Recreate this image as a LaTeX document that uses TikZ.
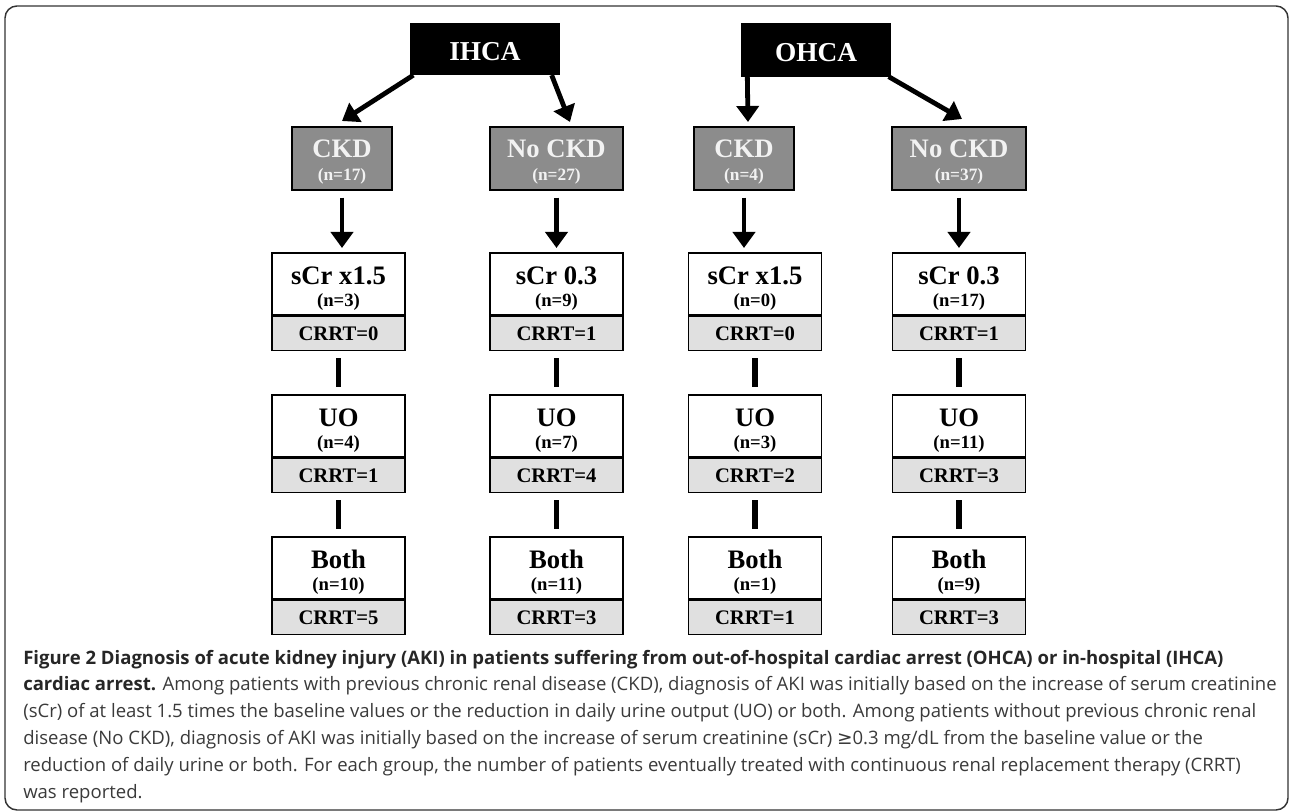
\documentclass[tikz,border=0pt]{standalone}
\usepackage{fontspec}
\setmainfont{Liberation Serif}
\newfontfamily\capfont{Open Sans}
\newfontfamily\symfont{DejaVu Sans}
\usetikzlibrary{arrows.meta,calc}
\definecolor{ckdgray}{HTML}{8C8C8C}
\definecolor{ckdtext}{HTML}{F2F2F2}
\definecolor{crrtgray}{HTML}{E0E0E0}
\definecolor{captext}{HTML}{3A3A3A}
\definecolor{framecol}{HTML}{333333}
\tikzset{
  pxunits/.style={x=0.75pt,y=-0.75pt},
  headbox/.style={draw=black,fill=black,line width=1pt,inner sep=0pt,
    minimum width=148*0.75pt,minimum height=51*0.75pt},
  headtext/.style={anchor=base,inner sep=0pt,text=white,
    font=\bfseries\fontsize{20.5}{22}\selectfont},
  ckdbox/.style={draw=black,fill=ckdgray,line width=1.2pt,inner sep=0pt,
    minimum height=63*0.75pt,anchor=north},
  upbox/.style={draw=black,fill=white,line width=1.3pt,inner sep=0pt,
    minimum width=133*0.75pt,minimum height=62*0.75pt,anchor=north},
  crrtbox/.style={draw=black,fill=crrtgray,line width=1.3pt,inner sep=0pt,
    minimum width=133*0.75pt,minimum height=34*0.75pt,anchor=north,
    font=\bfseries\fontsize{15.5}{17}\selectfont},
  titletext/.style={anchor=base,inner sep=0pt,font=\bfseries\fontsize{20}{22}\selectfont},
  ntext/.style={anchor=center,inner sep=0pt,font=\bfseries\fontsize{14}{16}\selectfont},
  ckdtitle/.style={anchor=base,inner sep=0pt,text=ckdtext,font=\bfseries\fontsize{20}{22}\selectfont},
  ckdn/.style={anchor=center,inner sep=0pt,text=ckdtext,font=\bfseries\fontsize{13}{15}\selectfont},
  arr/.style={line width=3.6pt,-{Triangle[width=16.5pt,length=12pt]}},
  bar/.style={line width=3.8pt,shorten <=7*0.75pt,shorten >=7*0.75pt},
}
% #1 name, #2 cx, #3 top, #4 title, #5 n, #6 crrt
\newcommand\kbox[6]{%
  \node[upbox] (#1) at (#2,#3) {};
  \node[titletext] (#1t) at ($(#1.north)+(0,33)$) {#4};
  \node[ntext] (#1n) at ($(#1.north)+(0,50)$) {#5};
  \node[crrtbox] (#1c) at (#1.south) {#6};
}
% #1 name, #2 cx, #3 width, #4 title, #5 n
\newcommand\ckbox[5]{%
  \node[ckdbox,minimum width=#3*0.75pt] (#1) at (#2,126) {};
  \node[ckdtitle] (#1t) at ($(#1.north)+(0,32)$) {#4};
  \node[ckdn] (#1n) at ($(#1.north)+(0,50)$) {#5};
}
\begin{document}
\begin{tikzpicture}[pxunits]
\useasboundingbox (0,0) rectangle (1290,812);
\draw[framecol,line width=1.1pt,rounded corners=9pt] (5,6) rectangle (1288,810);

\node[headbox] (ihca) at (485,49) {};
\node[headtext] (ihcat) at ($(ihca.center)+(0,12)$) {IHCA};
\node[headbox,minimum height=52*0.75pt] (ohca) at (816,50) {};
\node[headtext] (ohcat) at ($(ohca.center)+(0,12)$) {OHCA};

\ckbox{ckdA}{342}{100}{CKD}{(n=17)}
\ckbox{ckdB}{556.5}{133}{No CKD}{(n=27)}
\ckbox{ckdC}{744}{100}{CKD}{(n=4)}
\ckbox{ckdD}{959}{134}{No CKD}{(n=37)}

\kbox{sA}{338.5}{252}{sCr x1.5}{(n=3)}{CRRT=0}
\kbox{sB}{556.5}{252}{sCr 0.3}{(n=9)}{CRRT=1}
\kbox{sC}{755}{252}{sCr x1.5}{(n=0)}{CRRT=0}
\kbox{sD}{959}{252}{sCr 0.3}{(n=17)}{CRRT=1}

\kbox{uA}{338.5}{394}{UO}{(n=4)}{CRRT=1}
\kbox{uB}{556.5}{394}{UO}{(n=7)}{CRRT=4}
\kbox{uC}{755}{394}{UO}{(n=3)}{CRRT=2}
\kbox{uD}{959}{394}{UO}{(n=11)}{CRRT=3}

\kbox{bA}{338.5}{536}{Both}{(n=10)}{CRRT=5}
\kbox{bB}{556.5}{536}{Both}{(n=11)}{CRRT=3}
\kbox{bC}{755}{536}{Both}{(n=1)}{CRRT=1}
\kbox{bD}{959}{536}{Both}{(n=9)}{CRRT=3}

% top arrows
\draw[arr] ($(ihca.south west)+(3,0)$) -- ($(ckdA.north)+(0,-5)$);
\draw[arr] ($(ihca.south east)+(-8,0)$) -- ($(ckdB.north)+(13.5,-4)$);
\draw[arr] ($(ohca.south west)+(6,0)$) -- ($(ckdC.north)+(4,-4)$);
\draw[arr] ($(ohca.south east)+(-2,0)$) -- ($(ckdD.north)+(3,-7)$);

% CKD -> sCr arrows and connectors
\foreach \c in {A,B,C,D}{
  \draw[arr,shorten >=4*0.75pt] ($(ckd\c.south)+(0,7)$) -- (ckd\c.south |- s\c.north);
  \draw[bar] (s\c c.south) -- (u\c.north);
  \draw[bar] (u\c c.south) -- (b\c.north);
}

\node[anchor=base west,inner sep=0pt,align=left,text=captext,
  font=\capfont\fontsize{13.9}{20.1}\selectfont] (cap) at (23,798)
{{\bfseries\color{black!85}Figure 2 Diagnosis of acute kidney injury (AKI) in patients suffering from out-of-hospital cardiac arrest (OHCA) or in-hospital (IHCA)}\\
{\bfseries\color{black!85}cardiac arrest.} Among patients with previous chronic renal disease (CKD), diagnosis of AKI was initially based on the increase of serum creatinine\\
(sCr) of at least 1.5 times the baseline values or the reduction in daily urine output (UO) or both. Among patients without previous chronic renal\\
disease (No CKD), diagnosis of AKI was initially based on the increase of serum creatinine (sCr) {\symfont ≥}0.3 mg/dL from the baseline value or the\\
reduction of daily urine or both. For each group, the number of patients eventually treated with continuous renal replacement therapy (CRRT)\\
was reported.};
\end{tikzpicture}
\end{document}
